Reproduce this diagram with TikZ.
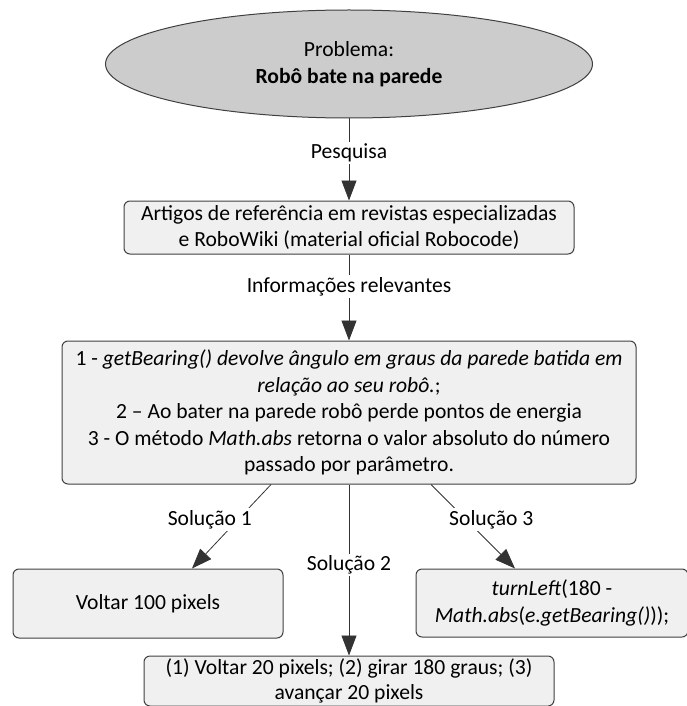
\documentclass[tikz,border=0pt]{standalone}
\usepackage{fontspec}
\setmainfont{Carlito}
\usetikzlibrary{arrows.meta,positioning,shapes.geometric}

\begin{document}
\begin{tikzpicture}[x=1pt, y=-1pt, font=\fontsize{21.6}{26.5}\selectfont,
  prob/.style={draw=black!75, line width=1pt, ellipse, fill=gray!40, inner sep=0pt, minimum width=487pt, minimum height=108pt, align=center},
  box/.style={draw=black!75, line width=1pt, rounded corners=6pt, fill=gray!12, align=center, inner sep=0pt},
  lbl/.style={fill=white, inner sep=2pt},
  flow/.style={-{Triangle[length=20pt, width=15pt]}, draw=black!80, line width=0.8pt}]
\useasboundingbox (0,0) rectangle (687,706);
\node[prob] (problema) at (349,64) {Problema:\\\textbf{Robô bate na parede}};
\node[box, minimum width=450pt, minimum height=53pt, below=82pt of problema] (artigos)
  {Artigos de referência em revistas especializadas\\e RoboWiki (material oficial Robocode)};
\node[box, minimum width=574pt, minimum height=143pt, below=86pt of artigos] (info)
  {1 - \textit{getBearing() devolve ângulo em graus da parede batida em}\\
   \textit{relação ao seu robô.};\\
   2 – Ao bater na parede robô perde pontos de energia\\
   3 - O método \textit{Math.abs} retorna o valor absoluto do número\\
   passado por parâmetro.};
\node[box, minimum width=270pt, minimum height=69pt] (voltar) at (148,603.5) {Voltar 100 pixels};
\node[box, minimum width=272pt, minimum height=68pt] (girar) at (552,603) {\textit{turnLeft}(180 -\\\textit{Math.abs}(\textit{e.getBearing()}));};
\node[box, minimum width=410pt, minimum height=50pt, below=171pt of info,
  font=\fontsize{21.6}{25}\selectfont] (avancar)
  {(1) Voltar 20 pixels; (2) girar 180 graus; (3)\\avançar 20 pixels};
% ligacoes
\draw[flow] (problema) -- node[lbl, pos=0.42] {Pesquisa} (artigos);
\draw[flow] (artigos) -- node[lbl, pos=0.37] {Informações relevantes} (info);
\draw[flow] ([xshift=-78pt]info.south) -- node[lbl, pos=0.42, xshift=-28pt] {Solução 1} ([xshift=44pt]voltar.north);
\draw[flow] (info) -- node[lbl, pos=0.47] {Solução 2} (avancar);
\draw[flow] ([xshift=82pt]info.south) -- node[lbl, pos=0.42, xshift=25pt] {Solução 3} ([xshift=-37pt]girar.north);
\end{tikzpicture}
\end{document}
